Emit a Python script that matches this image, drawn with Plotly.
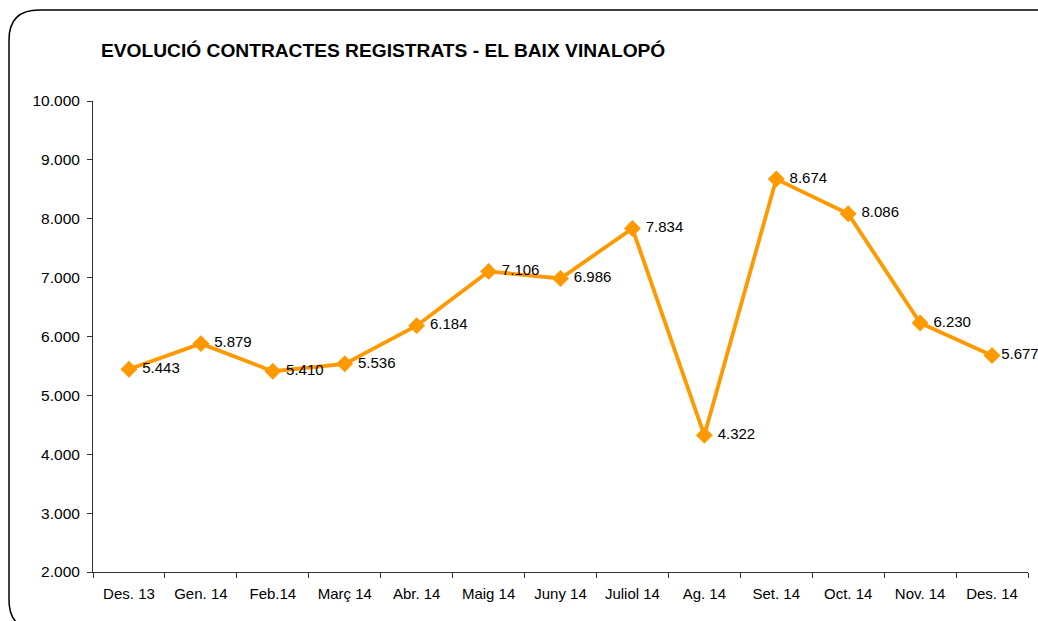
import plotly.graph_objects as go

# Monthly registered contracts, El Baix Vinalopó
months = ["Des. 13", "Gen. 14", "Feb.14", "Març 14", "Abr. 14", "Maig 14", "Juny 14",
          "Juliol 14", "Ag. 14", "Set. 14", "Oct. 14", "Nov. 14", "Des. 14"]
contracts = [5443, 5879, 5410, 5536, 6184, 7106, 6986, 7834, 4322, 8674, 8086, 6230, 5677]
y_ticks = [2000, 3000, 4000, 5000, 6000, 7000, 8000, 9000, 10000]

def fmt(v):
    return f"{v:,}".replace(",", ".")

W, H = 1038, 621
L, R, T, B = 93, 10, 101, 49
PW, PH = W - L - R, H - T - B

def px(x):
    return (x - L) / PW

def py(y):
    return (H - B - y) / PH

ORANGE = "#FF9900"
FONT = "Liberation Sans, Arial, sans-serif"

# Value labels sit just right of each marker; the last one hugs its marker to stay on the page
labels = [" " + fmt(v) for v in contracts]
labels[-1] = fmt(contracts[-1])

fig = go.Figure()
fig.add_trace(go.Scatter(
    x=months, y=contracts,
    mode="lines+markers+text",
    line=dict(color=ORANGE, width=3.8),
    marker=dict(symbol="diamond", size=13, color=ORANGE),
    text=labels,
    textposition="middle right",
    textfont=dict(family=FONT, size=15, color="#000000"),
    cliponaxis=False,
    showlegend=False,
))

# Rounded outer frame (runs past the right and bottom edges of the page)
x0, y0, x1, y1, r = 9, 10, 1060, 630, 30
path = (
    f"M {px(x0 + r)},{py(y1)} "
    f"Q {px(x0)},{py(y1)} {px(x0)},{py(y1 - r)} "
    f"L {px(x0)},{py(y0 + r)} "
    f"Q {px(x0)},{py(y0)} {px(x0 + r)},{py(y0)} "
    f"L {px(x1)},{py(y0)}"
)
fig.add_shape(type="path", path=path, xref="paper", yref="paper",
              line=dict(color="#000000", width=1.5), layer="above")

fig.update_layout(
    width=W, height=H,
    margin=dict(l=L, r=R, t=T, b=B),
    paper_bgcolor="white", plot_bgcolor="white",
    font=dict(family=FONT, size=15, color="#000000"),
    title=dict(
        text="<b>EVOLUCIÓ CONTRACTES REGISTRATS - EL BAIX VINALOPÓ</b>",
        x=px(101), xanchor="left", xref="paper",
        y=1 - 50 / H, yanchor="middle",
        font=dict(family=FONT, size=19.2, color="#000000"),
    ),
    xaxis=dict(
        type="category", range=[-0.5, len(months) - 0.5],
        showgrid=False, zeroline=False,
        showline=True, linecolor="#333333", linewidth=1,
        ticks="outside", tickson="boundaries", ticklen=5, tickcolor="#333333",
        ticklabelstandoff=8,
        tickfont=dict(family=FONT, size=15, color="#000000"),
        fixedrange=True,
    ),
    yaxis=dict(
        range=[2000, 10000],
        tickvals=y_ticks, ticktext=[fmt(v) for v in y_ticks],
        showgrid=False, zeroline=False,
        showline=True, linecolor="#333333", linewidth=1,
        ticks="outside", ticklen=5, tickcolor="#333333",
        ticklabelstandoff=4,
        tickfont=dict(family=FONT, size=15.5, color="#000000"),
        fixedrange=True,
    ),
)

fig.write_html("out.html")
